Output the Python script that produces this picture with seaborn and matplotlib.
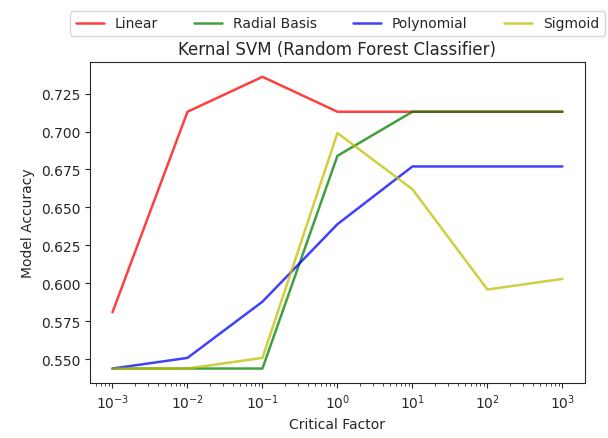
import matplotlib
matplotlib.use("Agg")
import matplotlib.pyplot as plt
import matplotlib.ticker as mticker
import seaborn as sns
import pandas as pd

c_values = [1e-3, 1e-2, 1e-1, 1e0, 1e1, 1e2, 1e3]
linear = [0.581, 0.713, 0.736, 0.713, 0.713, 0.713, 0.713]
radial = [0.544, 0.544, 0.544, 0.684, 0.713, 0.713, 0.713]
poly = [0.544, 0.551, 0.588, 0.639, 0.677, 0.677, 0.677]
sigmoid = [0.544, 0.544, 0.551, 0.699, 0.662, 0.596, 0.603]

series = [("Linear", linear, "r"), ("Radial Basis", radial, "g"),
          ("Polynomial", poly, "b"), ("Sigmoid", sigmoid, "y")]

sns.set_style("ticks")
fig = plt.figure(figsize=(6.08, 4.39), dpi=100)
ax = fig.add_axes([0.148, 0.125, 0.814, 0.731])
for name, vals, col in series:
    df = pd.DataFrame({"C": c_values, "acc": vals})
    sns.lineplot(data=df, x="C", y="acc", color=col, alpha=0.75, label=name, ax=ax, linewidth=1.8)
ax.set_xscale("log")
ax.xaxis.set_minor_formatter(mticker.NullFormatter())
ax.set_xlabel("Critical Factor")
ax.set_ylabel("Model Accuracy")
ax.set_title("Kernal SVM (Random Forest Classifier)")
ax.legend(loc="lower center", bbox_to_anchor=(0.5, 1.06), ncol=4, frameon=True,
          columnspacing=2.6)
fig.savefig("out.png", dpi=100)
